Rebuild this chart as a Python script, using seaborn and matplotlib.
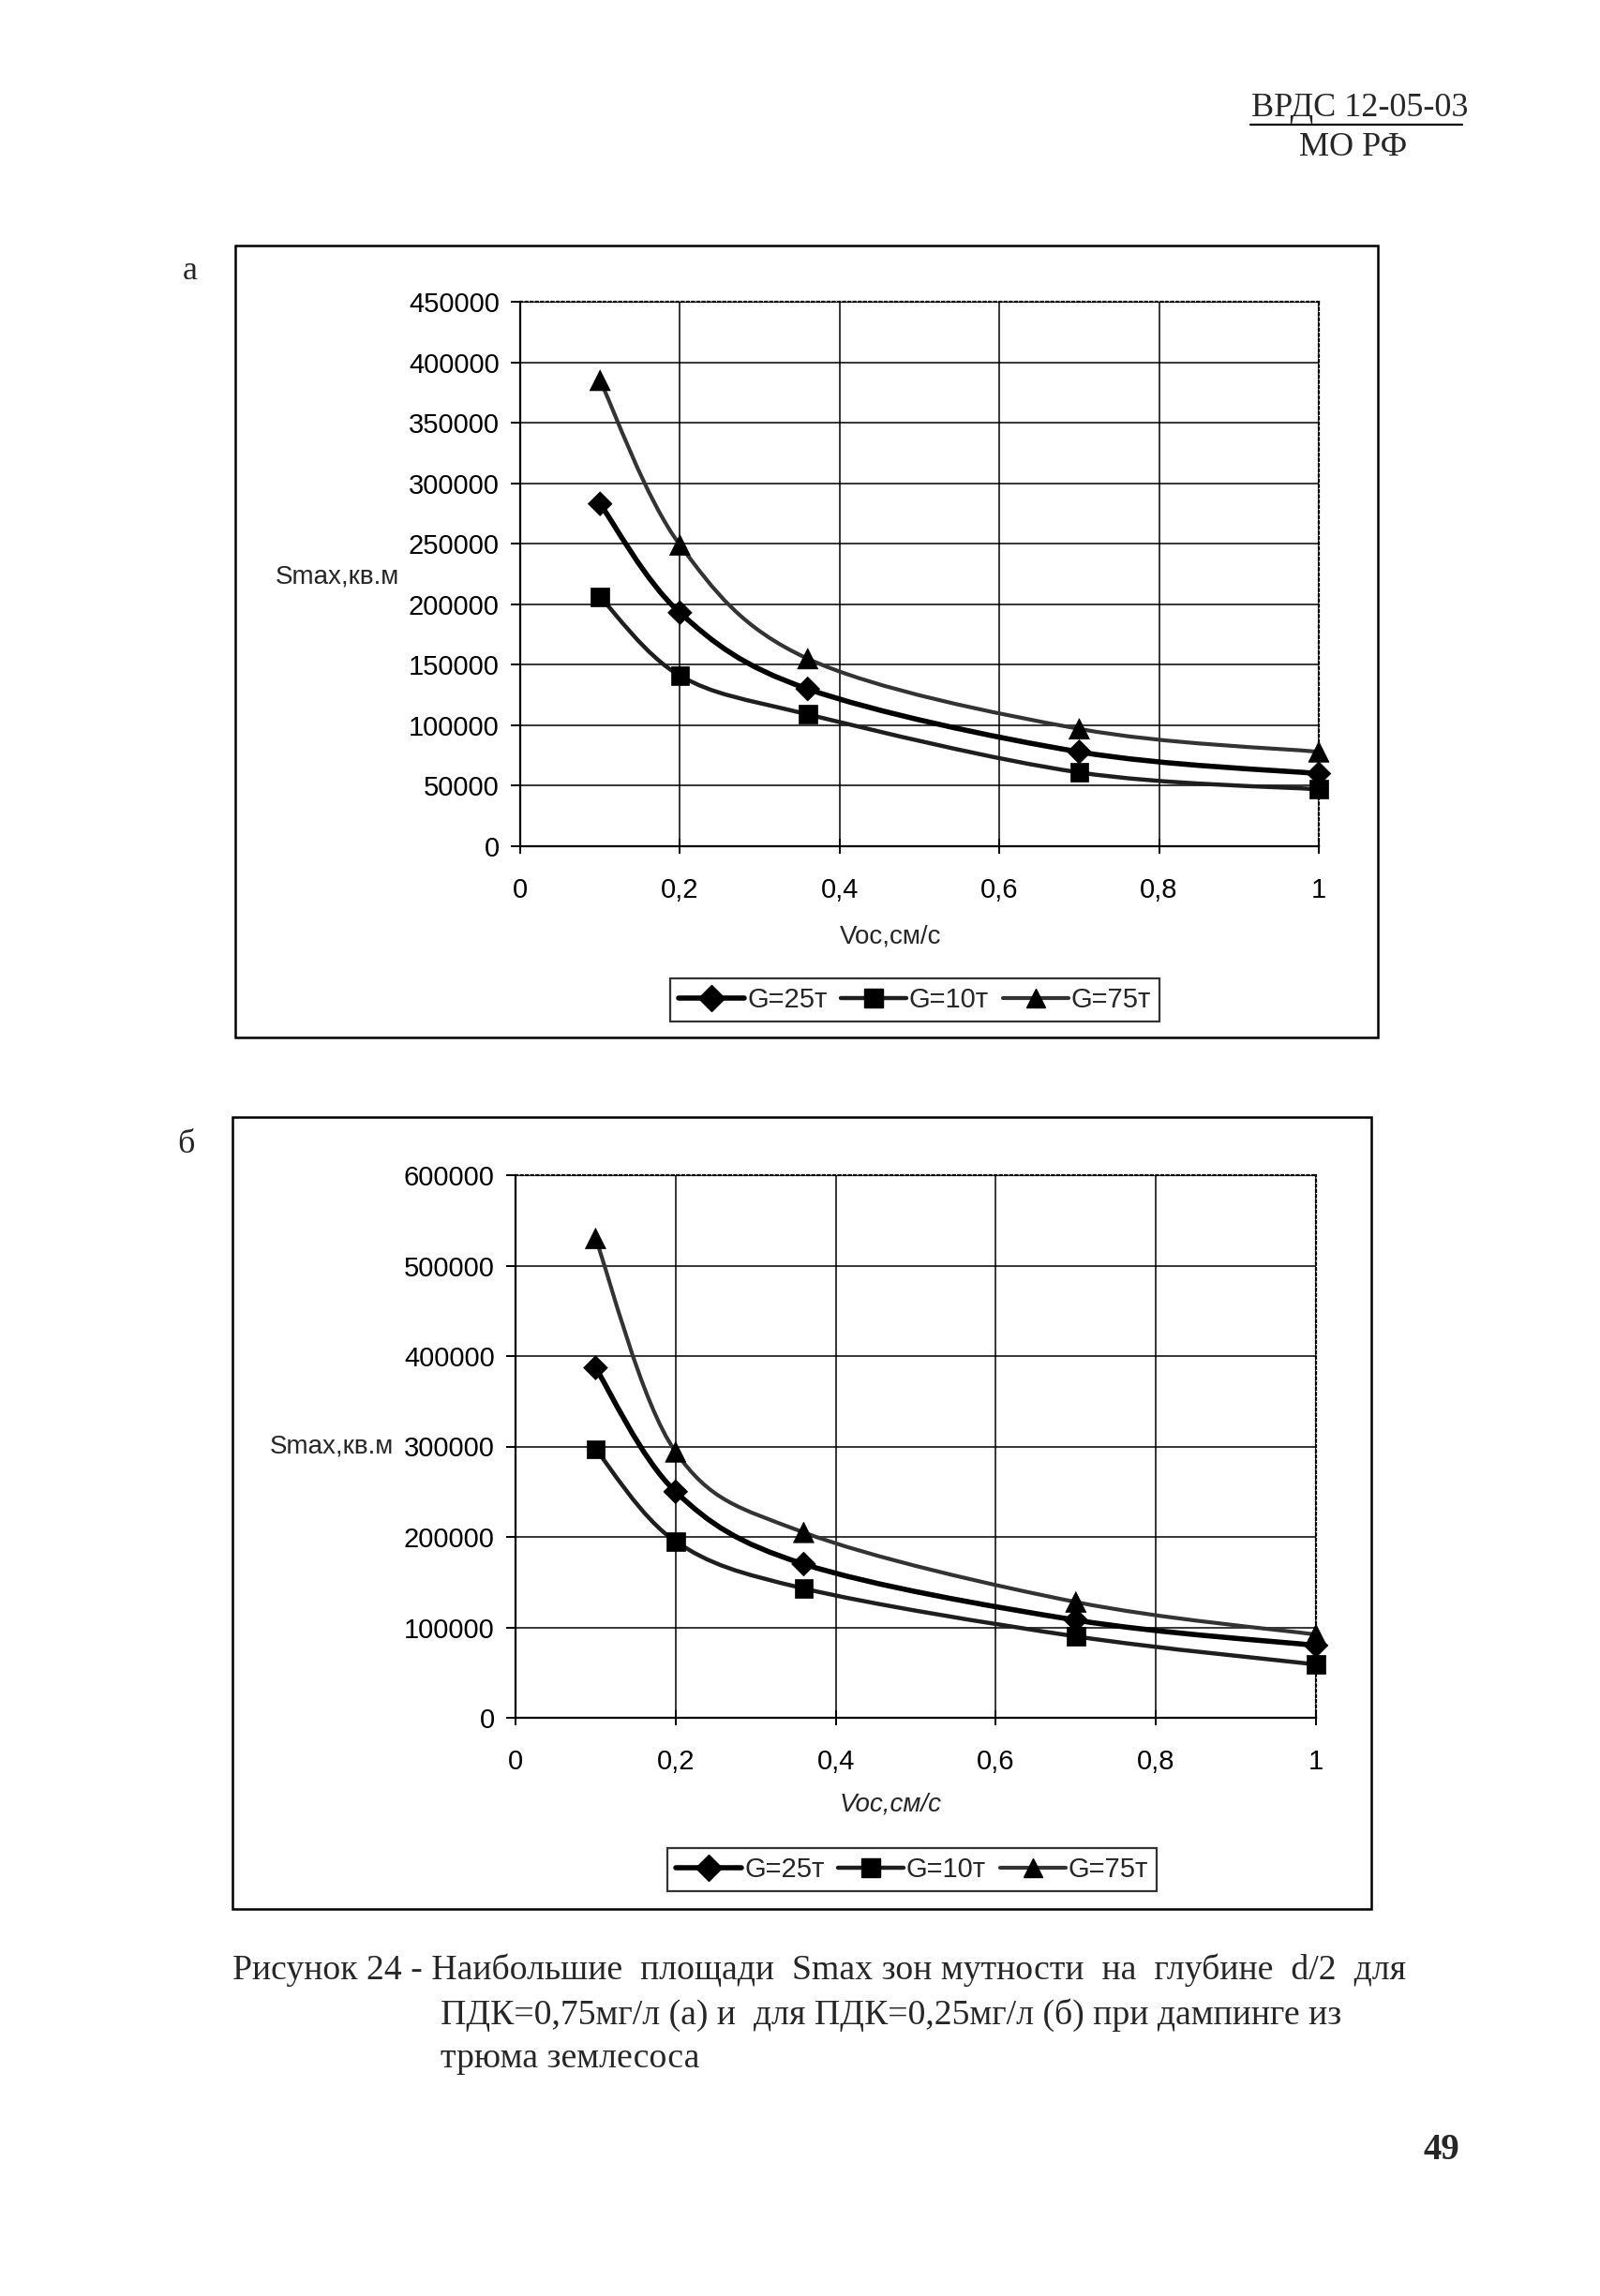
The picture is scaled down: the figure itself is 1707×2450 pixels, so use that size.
import numpy as np
import pandas as pd
import matplotlib
matplotlib.use("Agg")
import matplotlib.pyplot as plt
import seaborn as sns
from matplotlib.path import Path
from matplotlib.patches import PathPatch, Rectangle
from matplotlib.lines import Line2D

# Data
v_os = [0.1, 0.2, 0.36, 0.7, 1.0]
series_names = ["G=25т", "G=10т", "G=75т"]

# panel a: ПДК=0,75мг/л
s_a_25 = [283000, 193000, 130000, 78000, 60000]
s_a_10 = [206000, 141000, 109000, 61000, 47000]
s_a_75 = [385000, 249000, 155000, 97000, 78000]

# panel б: ПДК=0,25мг/л
s_b_25 = [387000, 250000, 170000, 108000, 80000]
s_b_10 = [297000, 195000, 143000, 90000, 59000]
s_b_75 = [530000, 294000, 205000, 128000, 92000]

x_ticks = [0, 0.2, 0.4, 0.6, 0.8, 1]
x_ticklabels = ["0", "0,2", "0,4", "0,6", "0,8", "1"]
y_ticks_a = [0, 50000, 100000, 150000, 200000, 250000, 300000, 350000, 400000, 450000]
y_ticks_b = [0, 100000, 200000, 300000, 400000, 500000, 600000]

sns.set_style("white")
plt.rcParams['font.family'] = ['Liberation Sans', 'DejaVu Sans']

W, H = 1708, 2450
fig = plt.figure(figsize=(W / 100, H / 100), dpi=100)
fig.patch.set_facecolor("white")


def fx(px):
    return px / W


def fy(py):
    return 1 - py / H


colors = {"G=25т": "#000000", "G=10т": "#1e1e1e", "G=75т": "#333333"}
widths = {"G=25т": 4.0, "G=10т": 3.2, "G=75т": 3.0}
markers = {"G=25т": "D", "G=10т": "s", "G=75т": "^"}
msizes = {"G=25т": 170, "G=10т": 200, "G=75т": 250}


def smooth_path(xs, ys):
    # Excel-like smoothed line (Catmull-Rom as cubic Bezier through the data points)
    pts = np.column_stack([xs, ys]).astype(float)
    n = len(pts)
    verts = [pts[0]]
    codes = [Path.MOVETO]
    for i in range(n - 1):
        p0 = pts[max(i - 1, 0)]
        p1 = pts[i]
        p2 = pts[i + 1]
        p3 = pts[min(i + 2, n - 1)]
        verts += [p1 + (p2 - p0) / 6, p2 - (p3 - p1) / 6, p2]
        codes += [Path.CURVE4] * 3
    return Path(verts, codes)


def draw_panel(ax, data, ymax, yticks):
    df = pd.DataFrame({
        "v": v_os * 3,
        "s": data["G=25т"] + data["G=10т"] + data["G=75т"],
        "G": [n for n in series_names for _ in v_os],
    })
    for name in series_names:
        patch = PathPatch(smooth_path(v_os, data[name]), fill=False,
                          edgecolor=colors[name], lw=widths[name],
                          transform=ax.transData, clip_on=False, zorder=3)
        ax.add_patch(patch)
    sns.scatterplot(data=df, x="v", y="s", hue="G", style="G", size="G",
                    palette={k: "black" for k in series_names},
                    markers=markers, sizes=msizes, legend=False,
                    edgecolor="black", linewidth=0.5, ax=ax,
                    clip_on=False, zorder=4)
    ax.set_xlim(0, 1)
    ax.set_ylim(0, ymax)
    ax.set_xticks(x_ticks)
    ax.set_xticklabels(x_ticklabels)
    ax.set_yticks(yticks)
    ax.set_yticklabels([str(t) for t in yticks])
    ax.set_xlabel("")
    ax.set_ylabel("")
    ax.grid(True, color="black", lw=1.1)
    ax.set_axisbelow(True)
    for side in ["left", "bottom"]:
        ax.spines[side].set_color("black")
        ax.spines[side].set_linewidth(1.6)
    for side in ["top", "right"]:
        ax.spines[side].set_color("black")
        ax.spines[side].set_linewidth(1.6)
        ax.spines[side].set_linestyle((0, (1, 1.5)))
    ax.tick_params(axis="y", direction="out", length=7, width=1.4,
                   pad=9, labelsize=21, left=True, colors="black")
    ax.tick_params(axis="x", direction="inout", length=12, width=1.4,
                   pad=18, labelsize=21, bottom=True, colors="black")
    handles = [Line2D([], [], color=colors[n], lw=widths[n], marker=markers[n],
                      markersize=14 if n != "G=75т" else 15,
                      markerfacecolor="black", markeredgecolor="black")
               for n in series_names]
    return handles


# panel a
ax_a = fig.add_axes([fx(555), fy(903), (1407 - 555) / W, (903 - 322) / H])
h = draw_panel(ax_a, {"G=25т": s_a_25, "G=10т": s_a_10, "G=75т": s_a_75},
               450000, y_ticks_a)
leg = ax_a.legend(h, series_names, loc="center", ncol=3,
                  bbox_to_anchor=(fx(976), fy(1067)), bbox_transform=fig.transFigure,
                  frameon=True, fancybox=False, edgecolor="black", fontsize=21,
                  handlelength=2.4, handletextpad=0.1, columnspacing=0.5,
                  borderpad=0.3, borderaxespad=0)
leg.get_frame().set_linewidth(1.6)
fig.text(fx(950), fy(1000), "Voc,см/с", ha="center", va="center", fontsize=20)
fig.text(fx(426), fy(616), "Smax,кв.м", ha="right", va="center", fontsize=20)

# panel б
ax_b = fig.add_axes([fx(550), fy(1833), (1404 - 550) / W, (1833 - 1254) / H])
h = draw_panel(ax_b, {"G=25т": s_b_25, "G=10т": s_b_10, "G=75т": s_b_75},
               600000, y_ticks_b)
leg = ax_b.legend(h, series_names, loc="center", ncol=3,
                  bbox_to_anchor=(fx(973), fy(1995)), bbox_transform=fig.transFigure,
                  frameon=True, fancybox=False, edgecolor="black", fontsize=21,
                  handlelength=2.4, handletextpad=0.1, columnspacing=0.5,
                  borderpad=0.3, borderaxespad=0)
leg.get_frame().set_linewidth(1.6)
fig.text(fx(950), fy(1925), "Voc,см/с", ha="center", va="center", fontsize=20,
         style="italic")
fig.text(fx(420), fy(1543), "Smax,кв.м", ha="right", va="center", fontsize=20)

# chart frames
for (x0, y0, x1, y1) in [(251, 262, 1470, 1107), (248, 1192, 1463, 2037)]:
    fig.add_artist(Rectangle((fx(x0), fy(y1)), (x1 - x0) / W, (y1 - y0) / H,
                             transform=fig.transFigure, fill=False,
                             edgecolor="black", lw=1.8))

serif = ['Liberation Serif', 'DejaVu Serif']
fig.text(fx(203), fy(290), "а", ha="center", va="center", fontsize=26, family=serif)
fig.text(fx(198), fy(1222), "б", ha="center", va="center", fontsize=26, family=serif)

# page header
fig.text(fx(1451), fy(115), "ВРДС 12-05-03", ha="center", va="center",
         fontsize=26, family=serif)
fig.add_artist(Line2D([fx(1334), fx(1560)], [fy(133), fy(133)],
                      transform=fig.transFigure, color="black", lw=1.6))
fig.text(fx(1444), fy(158), "МО РФ", ha="center", va="center",
         fontsize=26, family=serif)

# caption
fig.text(fx(248), fy(2102),
         "Рисунок 24 - Наибольшие  площади  Smax зон мутности  на  глубине  d/2  для",
         ha="left", va="center", fontsize=27.2, family=serif)
fig.text(fx(470), fy(2150),
         "ПДК=0,75мг/л (а) и  для ПДК=0,25мг/л (б) при дампинге из",
         ha="left", va="center", fontsize=27.2, family=serif)
fig.text(fx(470), fy(2197), "трюма землесоса",
         ha="left", va="center", fontsize=27.2, family=serif)
fig.text(fx(1538), fy(2294), "49", ha="center", va="center",
         fontsize=28, family=serif, weight="bold")

fig.savefig("out.png", dpi=100, facecolor="white")
